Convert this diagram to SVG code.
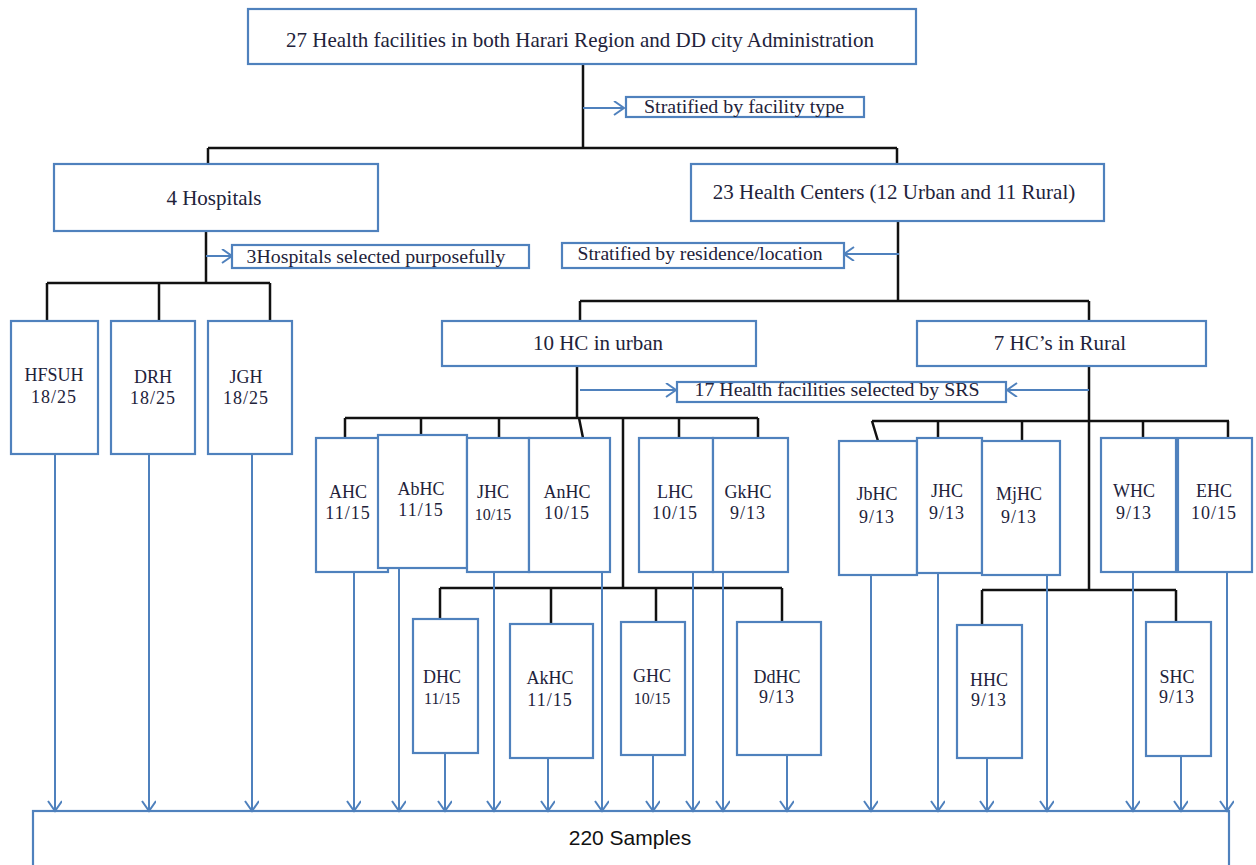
<svg xmlns="http://www.w3.org/2000/svg" width="1256" height="865" viewBox="0 0 1256 865">
<style>
.box{fill:#fff;stroke:#4F81BD;stroke-width:2.2}
.t{font-family:"Liberation Serif","Times New Roman",serif;fill:#22223a;text-anchor:middle}
.n{font-size:18px}
.m{font-size:18px;letter-spacing:1px}
.s{font-size:16px}
.blk{fill:none;stroke:#111;stroke-width:2.5}
.blu{fill:none;stroke:#4F81BD;stroke-width:2}
.arr{marker-end:url(#ah)}
</style>
<defs>
<marker id="ah" markerUnits="userSpaceOnUse" markerWidth="16" markerHeight="16" refX="11" refY="7" orient="auto" viewBox="0 0 16 16">
<path d="M1,0 L11,7 L1,14" fill="none" stroke="#4F81BD" stroke-width="2"/>
</marker>
</defs>
<rect width="1256" height="865" fill="#fff"/>

<g id="connectors">
<path class="blk" d="M583,64V148M208,148H897M208,148V164M897,148V164"/>
<path class="blk" d="M206,231V283M47,283H270M47,283V321M159,283V321M270,283V321"/>
<path class="blk" d="M898,221V301M580,301H1089M580,301V321M1089,301V321"/>
<path class="blk" d="M577,366V418M345,418H758M345,418V438M421,418V435M499,418V438M579,418L583,438M679,418V438M758,418V438M623,418V588M440,588H782M440,588V619M551,588V624M656,588V622M782,588V622"/>
<path class="blk" d="M1089,366V590M872,421H1229M872,421L878,441M938,421V438M1022,421V441M1143,421V438M1228,421V438M982,590H1176M982,590V625M1176,590V622"/>
<path class="blu arr" d="M583,108H624"/>
<path class="blu arr" d="M206,256H232"/>
<path class="blu arr" d="M899,254H844"/>
<path class="blu arr" d="M580,390H676"/>
<path class="blu arr" d="M1089,390H1007"/>
<g class="blu arr">
<path d="M55,454V811"/><path d="M149,454V811"/><path d="M252,454V811"/>
<path d="M354,572V811"/><path d="M399,568V811"/><path d="M445,753V811"/>
<path d="M494,572V811"/><path d="M548,758V811"/><path d="M602,572V811"/>
<path d="M653,755V811"/><path d="M693,572V811"/><path d="M723,572V811"/>
<path d="M787,755V811"/><path d="M871,575V811"/><path d="M938,573V811"/>
<path d="M987,758V811"/><path d="M1047,575V811"/><path d="M1133,572V811"/>
<path d="M1181,756V811"/><path d="M1227,572V811"/>
</g>
</g>

<g id="top"><rect class="box" x="248" y="9" width="668" height="55"/><text class="t" x="580" y="47" font-size="21">27 Health facilities in both Harari Region and DD city Administration</text></g>
<g id="strat-type"><rect class="box" x="626" y="97" width="238" height="20"/><text class="t" x="744" y="113" font-size="18" textLength="200" lengthAdjust="spacingAndGlyphs">Stratified  by  facility type</text></g>
<g id="hospitals"><rect class="box" x="54" y="164" width="324" height="67"/><text class="t" x="214" y="205" font-size="21">4 Hospitals</text></g>
<g id="hc"><rect class="box" x="691" y="164" width="413" height="57"/><text class="t" x="894" y="199" font-size="21">23 Health Centers (12 Urban and 11 Rural)</text></g>
<g id="purpose"><rect class="box" x="232" y="245" width="297" height="23"/><text class="t" x="376" y="263" font-size="19" textLength="259" lengthAdjust="spacingAndGlyphs">3Hospitals selected purposefully</text></g>
<g id="strat-res"><rect class="box" x="562" y="243" width="282" height="25"/><text class="t" x="700" y="260" font-size="19" textLength="245" lengthAdjust="spacingAndGlyphs">Stratified  by  residence/location</text></g>
<g id="urban"><rect class="box" x="442" y="321" width="314" height="45"/><text class="t" x="598" y="350" font-size="21">10 HC in urban</text></g>
<g id="rural"><rect class="box" x="917" y="321" width="289" height="45"/><text class="t" x="1060" y="350" font-size="21">7 HC’s in Rural</text></g>
<g id="srs"><rect class="box" x="677" y="382" width="329" height="20"/><text class="t" x="837" y="396" font-size="19" textLength="285" lengthAdjust="spacingAndGlyphs">17 Health facilities selected  by  SRS</text></g>

<g id="hfsuh"><rect class="box" x="11" y="321" width="87" height="133"/><text class="t n" x="54" y="381">HFSUH</text><text class="t m" x="54" y="403">18/25</text></g>
<g id="drh"><rect class="box" x="111" y="321" width="84" height="133"/><text class="t n" x="153" y="383">DRH</text><text class="t m" x="153" y="404">18/25</text></g>
<g id="jgh"><rect class="box" x="208" y="321" width="84" height="133"/><text class="t n" x="246" y="383">JGH</text><text class="t m" x="246" y="404">18/25</text></g>

<g id="ahc"><rect class="box" x="316" y="438" width="72" height="134"/><text class="t n" x="348" y="498">AHC</text><text class="t m" x="348" y="519">11/15</text></g>
<g id="abhc"><rect class="box" x="378" y="435" width="89" height="133"/><text class="t n" x="421" y="495">AbHC</text><text class="t m" x="421" y="516">11/15</text></g>
<g id="jhc-u"><rect class="box" x="467" y="438" width="62" height="134"/><text class="t n" x="493" y="498">JHC</text><text class="t s" x="493" y="520">10/15</text></g>
<g id="anhc"><rect class="box" x="529" y="438" width="81" height="134"/><text class="t n" x="567" y="498">AnHC</text><text class="t m" x="567" y="519">10/15</text></g>
<g id="lhc"><rect class="box" x="639" y="438" width="74" height="134"/><text class="t n" x="675" y="498">LHC</text><text class="t m" x="675" y="519">10/15</text></g>
<g id="gkhc"><rect class="box" x="713" y="438" width="75" height="134"/><text class="t n" x="748" y="498">GkHC</text><text class="t m" x="748" y="519">9/13</text></g>

<g id="dhc"><rect class="box" x="413" y="619" width="65" height="134"/><text class="t n" x="442" y="683">DHC</text><text class="t s" x="442" y="704">11/15</text></g>
<g id="akhc"><rect class="box" x="510" y="624" width="83" height="134"/><text class="t n" x="550" y="684">AkHC</text><text class="t m" x="550" y="706">11/15</text></g>
<g id="ghc"><rect class="box" x="621" y="622" width="64" height="133"/><text class="t n" x="652" y="682">GHC</text><text class="t s" x="652" y="704">10/15</text></g>
<g id="ddhc"><rect class="box" x="737" y="622" width="84" height="133"/><text class="t n" x="777" y="683">DdHC</text><text class="t m" x="777" y="703">9/13</text></g>

<g id="jbhc"><rect class="box" x="839" y="441" width="78" height="134"/><text class="t n" x="877" y="500">JbHC</text><text class="t m" x="877" y="523">9/13</text></g>
<g id="jhc-r"><rect class="box" x="917" y="438" width="65" height="135"/><text class="t n" x="947" y="497">JHC</text><text class="t m" x="947" y="519">9/13</text></g>
<g id="mjhc"><rect class="box" x="982" y="441" width="78" height="134"/><text class="t n" x="1019" y="500">MjHC</text><text class="t m" x="1019" y="523">9/13</text></g>
<g id="whc"><rect class="box" x="1101" y="438" width="75" height="134"/><text class="t n" x="1134" y="497">WHC</text><text class="t m" x="1134" y="519">9/13</text></g>
<g id="ehc"><rect class="box" x="1178" y="438" width="74" height="134"/><text class="t n" x="1214" y="497">EHC</text><text class="t m" x="1214" y="519">10/15</text></g>

<g id="hhc"><rect class="box" x="957" y="625" width="65" height="133"/><text class="t n" x="989" y="686">HHC</text><text class="t m" x="989" y="706">9/13</text></g>
<g id="shc"><rect class="box" x="1146" y="622" width="65" height="134"/><text class="t n" x="1177" y="683">SHC</text><text class="t m" x="1177" y="703">9/13</text></g>

<g id="samples"><rect x="33" y="811" width="1196" height="80" fill="none" stroke="#4F81BD" stroke-width="2.2"/><text x="630" y="845" font-family="Liberation Sans, Arial, sans-serif" font-size="21" fill="#111" text-anchor="middle">220 Samples</text></g>
</svg>
